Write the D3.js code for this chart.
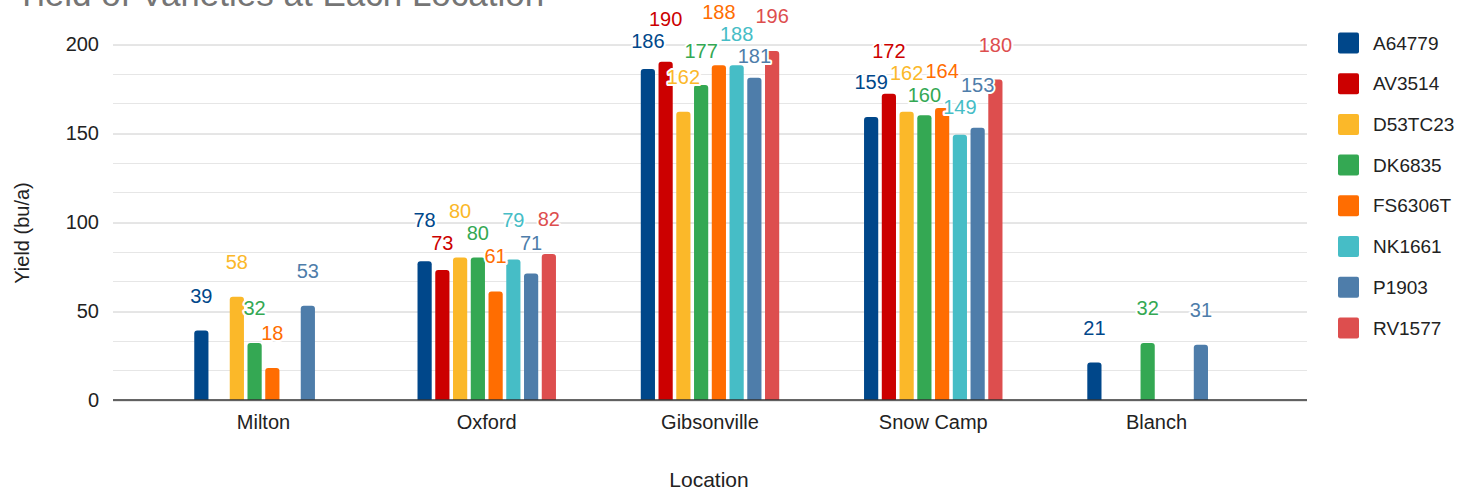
<!DOCTYPE html>
<html>
<head>
<meta charset="utf-8">
<script src="https://cdn.jsdelivr.net/npm/d3@7"></script>
<style>
  html, body { margin: 0; padding: 0; background: #fff; }
  svg { display: block; font-family: "Liberation Sans", Arial, sans-serif; }
</style>
</head>
<body>
<svg id="chart" width="1469" height="490"></svg>
<script>
// ---- data ----
const categories = ["Milton", "Oxford", "Gibsonville", "Snow Camp", "Blanch"];
const seriesNames = ["A64779", "AV3514", "D53TC23", "DK6835", "FS6306T", "NK1661", "P1903", "RV1577"];
const A64779  = [39, 78, 186, 159, 21];
const AV3514  = [null, 73, 190, 172, null];
const D53TC23 = [58, 80, 162, 162, null];
const DK6835  = [32, 80, 177, 160, 32];
const FS6306T = [18, 61, 188, 164, null];
const NK1661  = [null, 79, 188, 149, null];
const P1903   = [53, 71, 181, 153, 31];
const RV1577  = [null, 82, 196, 180, null];
const seriesValues = [A64779, AV3514, D53TC23, DK6835, FS6306T, NK1661, P1903, RV1577];
const seriesColors = ["#00478A", "#CC0000", "#FBB829", "#34A853", "#FF6D01", "#46BDC6", "#4E7DAA", "#DD4E4E"];
const yTickValues = [0, 50, 100, 150, 200];
const titleText = "Yield of Varieties at Each Location";
const xTitle = "Location";
const yTitle = "Yield (bu/a)";

// ---- layout ----
const svg = d3.select("#chart");
const plotL = 113, plotR = 1307, plotT = 44, plotB = 400;

const y = d3.scaleLinear().domain([0, 200]).range([plotB, plotT]);
const x0 = d3.scaleBand().domain(categories).range([plotL, plotR])
  .paddingInner(0.364).paddingOuter(0.356);
const x1 = d3.scaleBand().domain(seriesNames).range([0, x0.bandwidth()])
  .paddingInner(0.2).paddingOuter(0.1);

// title (cut off at top, as in the reference)
svg.append("text").attr("x", 15).attr("y", 6)
  .attr("font-size", 35).attr("fill", "#757575").text(titleText);

// minor gridlines
const minorTicks = d3.range(0, 200.01, 50 / 3).filter(v => Math.abs(v % 50) > 0.01 && Math.abs(v % 50 - 50) > 0.01);
svg.append("g").selectAll("line").data(minorTicks).join("line")
  .attr("x1", plotL).attr("x2", plotR)
  .attr("y1", d => Math.round(y(d)) + 0.5).attr("y2", d => Math.round(y(d)) + 0.5)
  .attr("stroke", "#e6e6e6").attr("stroke-width", 1);

// y axis (major gridlines + labels)
const yAxis = d3.axisLeft(y).tickValues(yTickValues).tickSize(-(plotR - plotL)).tickPadding(14)
  .tickFormat(d3.format("d"));
const gy = svg.append("g").attr("transform", `translate(${plotL},0)`).call(yAxis);
gy.select(".domain").remove();
gy.selectAll(".tick line").attr("stroke", "#cccccc").attr("stroke-width", 1)
  .attr("transform", "translate(0,0.5)");
gy.selectAll(".tick text").attr("font-size", 20).attr("fill", "#222")
  .attr("font-family", "Liberation Sans, Arial, sans-serif");

// bars
const barData = [];
categories.forEach((c, ci) => {
  seriesNames.forEach((s, si) => {
    const v = seriesValues[si][ci];
    if (v != null) barData.push({ c, ci, s, si, v });
  });
});
function barPath(d) {
  const bx = x0(d.c) + x1(d.s), bw = x1.bandwidth();
  const yt = y(d.v), yb = y(0), r = 3;
  return `M${bx},${yb}L${bx},${yt + r}Q${bx},${yt} ${bx + r},${yt}L${bx + bw - r},${yt}Q${bx + bw},${yt} ${bx + bw},${yt + r}L${bx + bw},${yb}Z`;
}
svg.append("g").selectAll("path").data(barData).join("path")
  .attr("d", barPath).attr("fill", d => seriesColors[d.si]);

// x axis baseline
const xAxis = d3.axisBottom(x0).tickSize(0).tickPadding(15);
const gx = svg.append("g").attr("transform", `translate(0,${plotB})`).call(xAxis);
gx.select(".domain").attr("stroke", "#333").attr("stroke-width", 1.5)
  .attr("d", `M${plotL},0H${plotR}`);
gx.selectAll(".tick text").attr("font-size", 20).attr("fill", "#222")
  .attr("font-family", "Liberation Sans, Arial, sans-serif");

// data labels with simple collision relaxation
const fs = 20;
const labels = barData.map(d => {
  const cx = x0(d.c) + x1(d.s) + x1.bandwidth() / 2;
  const txt = String(d.v);
  return { ...d, cx, txt, w: txt.length * 0.556 * fs, cy: y(d.v) - 35, maxY: y(d.v) - 18 };
});
categories.forEach((c, ci) => {
  const items = labels.filter(l => l.ci === ci);
  const sep = 22;
  for (let it = 0; it < 300; it++) {
    for (let i = 0; i < items.length; i++) {
      for (let j = i + 1; j < items.length; j++) {
        const a = items[i], b = items[j];
        if (Math.abs(a.cx - b.cx) >= (a.w + b.w) / 2 - 1) continue;
        const dy = b.cy - a.cy;
        if (Math.abs(dy) >= sep) continue;
        const def = (sep - Math.abs(dy)) / 2 + 0.01;
        let up = a, dn = b;
        if (dy < 0) { up = b; dn = a; }
        up.cy -= def; dn.cy += def;
      }
    }
    items.forEach(l => { if (l.cy > l.maxY) l.cy = l.maxY; });
  }
});
const lg = svg.append("g").attr("font-size", fs).attr("text-anchor", "middle");
lg.selectAll("text").data(labels).join("text")
  .attr("x", d => d.cx).attr("y", d => d.cy).attr("dy", "0.35em")
  .attr("fill", d => seriesColors[d.si])
  .attr("stroke", "#fff").attr("stroke-width", 4).attr("paint-order", "stroke")
  .attr("stroke-linejoin", "round")
  .text(d => d.txt);

// axis titles
svg.append("text").attr("x", 709).attr("y", 487).attr("text-anchor", "middle")
  .attr("font-size", 21).attr("fill", "#222").text(xTitle);
svg.append("text").attr("transform", "translate(29,233) rotate(-90)")
  .attr("text-anchor", "middle").attr("font-size", 20).attr("fill", "#222").text(yTitle);

// legend
const legend = svg.append("g").attr("transform", "translate(1338,43)");
const li = legend.selectAll("g").data(seriesNames).join("g")
  .attr("transform", (d, i) => `translate(0,${i * 40.7})`);
li.append("rect").attr("x", 0).attr("y", -10.5).attr("width", 21).attr("height", 21)
  .attr("rx", 2).attr("fill", (d, i) => seriesColors[i]);
li.append("text").attr("x", 35).attr("y", 0).attr("dy", "0.35em")
  .attr("font-size", 19).attr("fill", "#222").text(d => d);
</script>
</body>
</html>
